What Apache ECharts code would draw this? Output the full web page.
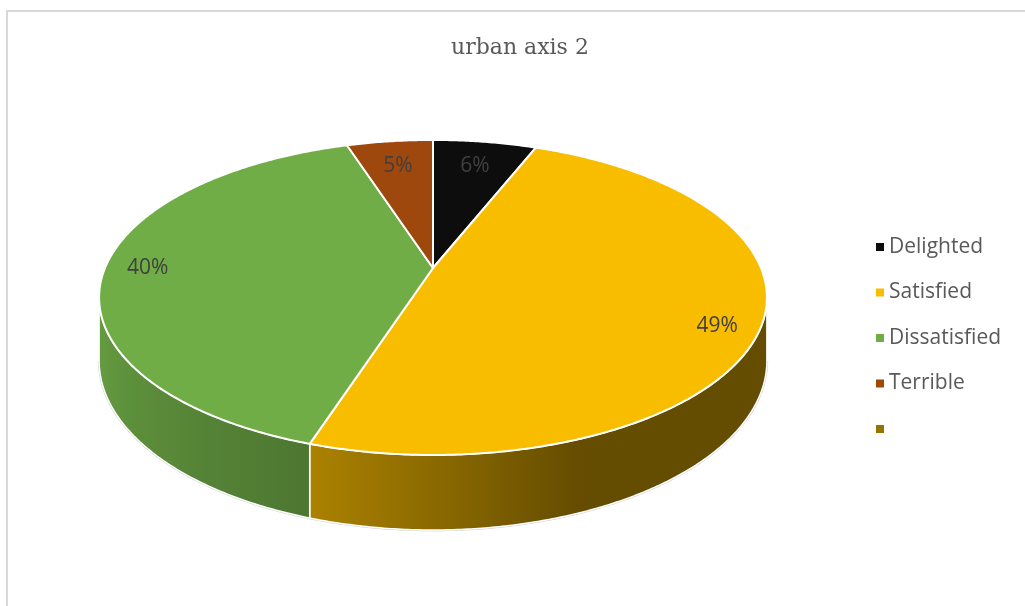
<!DOCTYPE html>
<html>
<head>
<meta charset="utf-8">
<title>urban axis 2</title>
<script src="https://cdn.jsdelivr.net/npm/echarts@6/dist/echarts.min.js"></script>
<style>
  html, body { margin: 0; padding: 0; overflow: hidden; background: #ffffff; }
  #frame { position: absolute; left: 6px; top: 10px; width: 1200px; height: 800px;
           border: 2px solid #d9d9d9; box-sizing: border-box; pointer-events: none; }
  #chart { position: absolute; left: 0; top: 0; width: 1025px; height: 606px; }
</style>
</head>
<body>
<div id="frame"></div>
<div id="chart"></div>
<script>
// Survey answers (percent of respondents)
const categories = ['Delighted', 'Satisfied', 'Dissatisfied', 'Terrible', ' '];
const shares = [6, 49, 40, 5, 0];
const topColors = ['#0d0d0d', '#f9bd00', '#70ad47', '#9e480e', '#997300'];

// Layout of the tilted pie: centre, radii, perspective strength and wall height
const PIE = { cx: 433, cy: 268, rx: 328, ry: 152, k: 0.187, depth: 61 };
// Brightness of the outer wall as a function of angle (degrees clockwise from 12 o'clock)
const wallShade = [[100, 0.40], [158, 0.40], [198, 0.69], [260, 0.93]];

const total = shares.reduce((a, b) => a + b, 0);
const starts = [];
shares.reduce((acc, v) => { starts.push(acc); return acc + v; }, 0);

// Project a point of the unit disc (angle clockwise from top, radius fraction) onto the screen
function project(ang, r, drop) {
  const u = r * Math.sin(ang);
  const v = -r * Math.cos(ang);
  const p = 1 / (1 - PIE.k * v);
  return [PIE.cx + PIE.rx * u * p, PIE.cy + PIE.ry * v * p + drop * p];
}

function shadeAt(deg) {
  if (deg <= wallShade[0][0]) return wallShade[0][1];
  for (let i = 1; i < wallShade.length; i++) {
    const [d1, f1] = wallShade[i];
    const [d0, f0] = wallShade[i - 1];
    if (deg <= d1) return f0 + (f1 - f0) * (deg - d0) / (d1 - d0);
  }
  return wallShade[wallShade.length - 1][1];
}

function scaleColor(hex, f) {
  const n = parseInt(hex.slice(1), 16);
  const c = [(n >> 16) & 255, (n >> 8) & 255, n & 255].map(x => Math.round(Math.min(255, x * f)));
  return 'rgb(' + c.join(',') + ')';
}

// Visible part of the outer wall lies between the two silhouette angles
const wallFrom = Math.acos(-PIE.k);
const wallTo = 2 * Math.PI - wallFrom;

function makeRenderer(i) {
  return function (params, api) {
    const val = api.value(0);
    const children = [];
    if (!val) return { type: 'group', children };
    const a0 = starts[i] / total * 2 * Math.PI;
    const a1 = a0 + val / total * 2 * Math.PI;
    const step = Math.PI / 360;

    // top face
    const topPts = [project(0, 0, 0)];
    const n = Math.max(2, Math.ceil((a1 - a0) / step));
    for (let j = 0; j <= n; j++) topPts.push(project(a0 + (a1 - a0) * j / n, 1, 0));
    children.push({
      type: 'polygon', shape: { points: topPts }, z2: 10,
      style: { fill: topColors[i], stroke: '#ffffff', lineWidth: 2, lineJoin: 'round' }
    });

    // outer wall
    const s0 = Math.max(a0, wallFrom);
    const s1 = Math.min(a1, wallTo);
    if (s1 > s0) {
      const m = Math.max(2, Math.ceil((s1 - s0) / step));
      const upper = [], lower = [], samples = [];
      for (let j = 0; j <= m; j++) {
        const a = s0 + (s1 - s0) * j / m;
        const pt = project(a, 1, 0);
        upper.push(pt);
        lower.push(project(a, 1, PIE.depth));
        samples.push([pt[0], a * 180 / Math.PI]);
      }
      const xs = samples.map(s => s[0]);
      const xmin = Math.min.apply(null, xs), xmax = Math.max.apply(null, xs);
      const stops = samples
        .map(s => ({ offset: (s[0] - xmin) / (xmax - xmin || 1), color: scaleColor(topColors[i], shadeAt(s[1])) }))
        .sort((p, q) => p.offset - q.offset);
      const thin = stops.filter((s, j) => j % 6 === 0 || j === stops.length - 1);
      children.push({
        type: 'polygon', shape: { points: upper.concat(lower.reverse()) }, z2: 2,
        style: {
          fill: new echarts.graphic.LinearGradient(0, 0, 1, 0, thin),
          stroke: '#ffffff', lineWidth: 1.5, lineJoin: 'round'
        }
      });
      children.push({
        type: 'polyline', shape: { points: lower.slice().reverse() }, z2: 1,
        style: { fill: null, stroke: '#cfcfcf', lineWidth: 2.5 }
      });
    }

    // percentage label
    const frac = val / total;
    const mid = (a0 + a1) / 2;
    const lp = project(mid, frac < 0.1 ? 0.78 : 0.87, frac > 0.45 ? 10 : 0);
    children.push({
      type: 'text', x: lp[0], y: lp[1], z2: 20,
      style: {
        text: Math.round(frac * 100) + '%', fill: '#404040',
        fontSize: 21, fontFamily: 'Open Sans', align: 'center', verticalAlign: 'middle'
      }
    });
    return { type: 'group', children };
  };
}

const chart = echarts.init(document.getElementById('chart'), null, { renderer: 'canvas' });
chart.setOption({
  backgroundColor: 'transparent',
  animation: false,
  title: {
    text: 'urban axis 2', left: 451, top: 37, padding: 0,
    textStyle: { fontFamily: 'DejaVu Serif', fontSize: 22, fontWeight: 'normal', color: '#595959' }
  },
  legend: {
    orient: 'vertical', left: 876, top: 235, padding: 0,
    icon: 'rect', itemWidth: 8, itemHeight: 8, itemGap: 21.5,
    selectedMode: false,
    textStyle: { fontFamily: 'Open Sans', fontSize: 21, color: '#595959', lineHeight: 24 },
    data: categories
  },
  series: categories.map((name, i) => ({
    type: 'custom',
    name,
    coordinateSystem: 'none',
    silent: true,
    itemStyle: { color: topColors[i] },
    data: [[shares[i]]],
    renderItem: makeRenderer(i)
  }))
});
</script>
</body>
</html>
